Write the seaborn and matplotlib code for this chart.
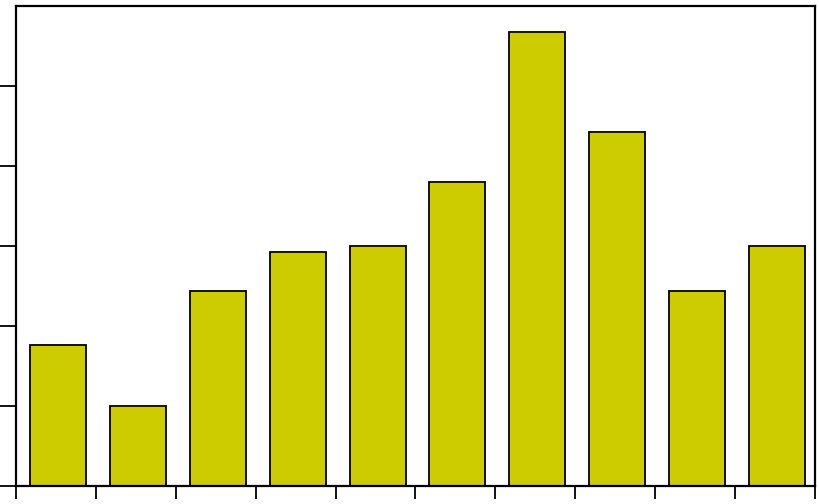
import matplotlib
matplotlib.use("Agg")
import matplotlib.pyplot as plt
import seaborn as sns
import pandas as pd
import numpy as np

# Values (no labels shown)
categories = ["A", "B", "C", "D", "E", "F", "G", "H", "I", "J"]
values = [1.76, 1.0, 2.44, 2.92, 3.0, 3.8, 5.67, 4.42, 2.44, 3.0]

df = pd.DataFrame({"cat": categories, "val": values})

sns.set_style("white")
fig = plt.figure(figsize=(8.2, 5.04), dpi=100)
ax = fig.add_axes([16 / 820, 18 / 504, 799 / 820, 480 / 504])

sns.barplot(data=df, x="cat", y="val", color="#cccc00", saturation=1,
            width=0.7, edgecolor="black", linewidth=1.3, ax=ax)

# bars sit slightly right of the category centre in the reference
shift = 0.025
ax.set_xlim(-0.5 - shift, len(categories) - 0.5 - shift)
ax.set_ylim(0, 6)
ax.set_xticks(np.arange(-0.5, len(categories), 1.0) - shift)
ax.set_yticks(range(0, 6))
ax.set_xticklabels([])
ax.set_yticklabels([])
ax.set_xlabel("")
ax.set_ylabel("")
ax.tick_params(axis="x", direction="out", length=9, width=1.3, color="black", bottom=True)
ax.tick_params(axis="y", direction="out", length=12, width=1.3, color="black", left=True)
for s in ax.spines.values():
    s.set_color("black")
    s.set_linewidth(1.6)

fig.savefig("out.png", dpi=100)
